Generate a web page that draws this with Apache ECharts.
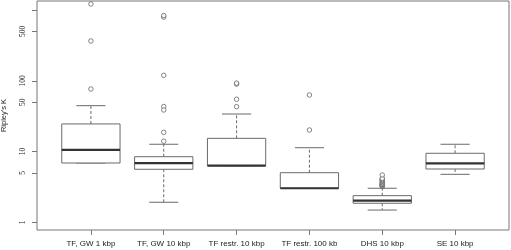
<!DOCTYPE html>
<html><head><meta charset="utf-8">
<script src="https://cdn.jsdelivr.net/npm/echarts@6/dist/echarts.min.js"></script>
<style>html,body{margin:0;padding:0;background:#fff}#c{width:511px;height:250px}</style>
</head><body><div id="c"></div>
<script>
const categories = ['TF, GW 1 kbp', 'TF, GW 10 kbp', 'TF restr. 10 kbp', 'TF restr. 100 kb', 'DHS 10 kbp', 'SE 10 kbp'];
const lowWhisker = [6.9, 1.92, 6.32, 3.03, 1.49, 4.77];
const q1 = [6.9, 5.62, 6.32, 3.03, 1.86, 5.67];
const median = [10.6, 6.89, 6.32, 3.03, 2.02, 6.83];
const q3 = [24.6, 8.47, 15.4, 5.03, 2.38, 9.46];
const highWhisker = [44.6, 12.7, 34, 11.35, 3.03, 12.7];
const outliers = [
  [1224, 367, 76.8],
  [800, 840, 120, 43.4, 38.8, 18.7, 14],
  [90, 93, 55, 43.2],
  [63.2, 20.2],
  [3.2, 3.25, 3.3, 3.35, 3.4, 3.45, 3.5, 3.6, 3.7, 3.8, 3.9, 4.0, 4.1, 4.2, 4.67],
  []
];
const yTicks = [1, 5, 10, 50, 100, 500, 1000];
const yLabels = [1, 5, 10, 50, 100, 500];
const xPositions = [1, 2, 3, 4, 5, 6];

const boxData = categories.map((c, i) => [xPositions[i], lowWhisker[i], q1[i], median[i], q3[i], highWhisker[i]]);
const outlierData = [];
outliers.forEach((arr, i) => arr.forEach(v => outlierData.push([xPositions[i], v])));

const lineColor = '#6a6a6a';
const chart = echarts.init(document.getElementById('c'), null, {renderer: 'canvas'});
chart.setOption({
  animation: false,
  grid: {left: 37, right: 2, top: 1, bottom: 20, outerBoundsMode: 'none', containLabel: false, show: true, borderColor: '#777', borderWidth: 1, backgroundColor: 'transparent'},
  xAxis: {
    type: 'value', min: 0.26, max: 6.74,
    axisLine: {show: false},
    splitLine: {show: false},
    axisTick: {show: true, length: 5, customValues: xPositions, lineStyle: {color: '#777'}},
    axisLabel: {
      customValues: xPositions, margin: 10,
      fontFamily: 'Liberation Sans', fontSize: 8, color: '#222',
      formatter: v => categories[Math.round(v) - 1] || ''
    }
  },
  yAxis: {
    type: 'log', logBase: 10, min: 0.778, max: 1349,
    name: "Ripley's K", nameLocation: 'middle', nameGap: 29,
    nameTextStyle: {fontFamily: 'Liberation Sans', fontSize: 7.5, color: '#222'},
    axisLine: {show: false},
    splitLine: {show: false},
    axisTick: {show: true, length: 5, customValues: yTicks, lineStyle: {color: '#777'}},
    axisLabel: {
      customValues: yLabels, rotate: 90, margin: 10,
      fontFamily: 'Liberation Sans Narrow', fontSize: 7.5, color: '#222',
      formatter: v => String(Math.round(v))
    }
  },
  series: [
    {
      type: 'custom',
      data: boxData,
      encode: {x: 0, y: [1, 2, 3, 4, 5]},
      renderItem: function (params, api) {
        const x = api.value(0);
        const lo = api.value(1), a = api.value(2), m = api.value(3), b = api.value(4), hi = api.value(5);
        const pl = api.coord([x - 0.4, a]);
        const pr = api.coord([x + 0.4, b]);
        const cx = api.coord([x, m])[0];
        const yLo = api.coord([x, lo])[1], yA = api.coord([x, a])[1], yM = api.coord([x, m])[1];
        const yB = api.coord([x, b])[1], yHi = api.coord([x, hi])[1];
        const capL = api.coord([x - 0.2, m])[0], capR = api.coord([x + 0.2, m])[0];
        const st = {stroke: lineColor, lineWidth: 1, fill: null};
        const dash = {stroke: lineColor, lineWidth: 1, lineDash: [3, 2]};
        return {
          type: 'group',
          children: [
            {type: 'line', shape: {x1: cx, y1: yB, x2: cx, y2: yHi}, style: dash},
            {type: 'line', shape: {x1: cx, y1: yA, x2: cx, y2: yLo}, style: dash},
            {type: 'line', shape: {x1: capL, y1: yHi, x2: capR, y2: yHi}, style: st},
            {type: 'line', shape: {x1: capL, y1: yLo, x2: capR, y2: yLo}, style: st},
            {type: 'rect', shape: {x: pl[0], y: yB, width: pr[0] - pl[0], height: yA - yB}, style: {stroke: lineColor, lineWidth: 1, fill: '#fff'}},
            {type: 'line', shape: {x1: pl[0], y1: yM, x2: pr[0], y2: yM}, style: {stroke: '#333', lineWidth: 2.2}}
          ]
        };
      }
    },
    {
      type: 'scatter',
      data: outlierData,
      symbol: 'circle',
      symbolSize: 4.5,
      itemStyle: {color: '#fff', borderColor: '#666', borderWidth: 1}
    }
  ]
});
</script></body></html>
